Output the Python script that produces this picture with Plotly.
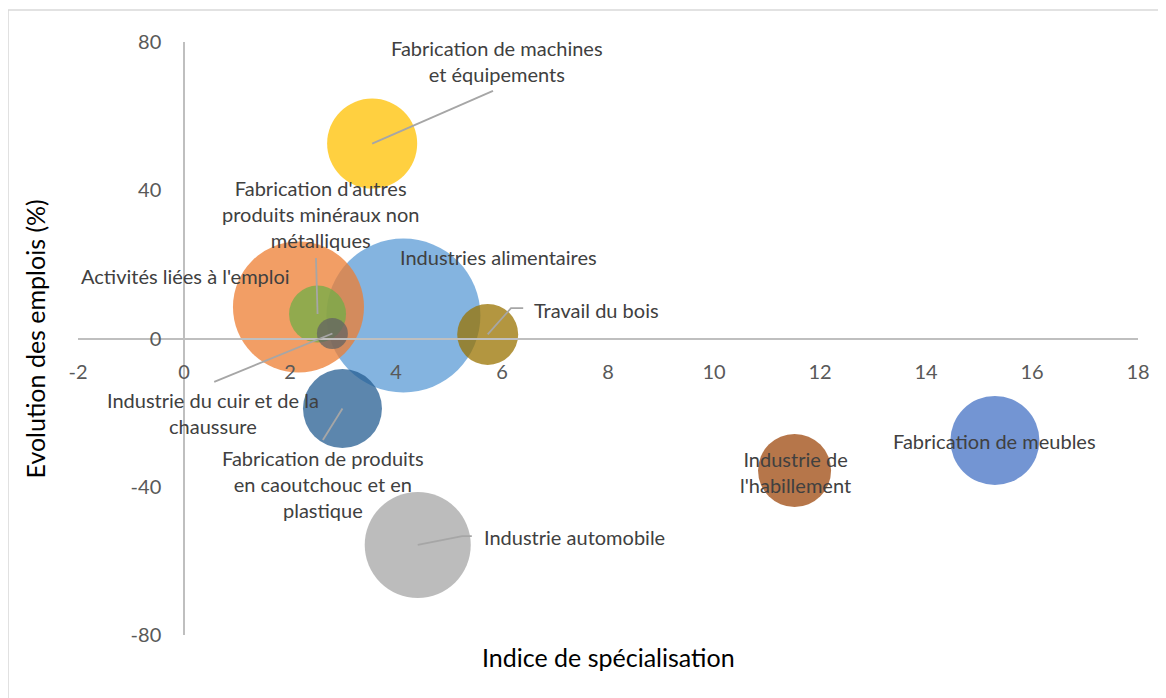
import plotly.graph_objects as go

# Données
secteurs = [
    "Industries alimentaires",
    "Activités liées à l'emploi",
    "Industrie automobile",
    "Fabrication de machines et équipements",
    "Fabrication de meubles",
    "Fabrication d'autres produits minéraux non métalliques",
    "Fabrication de produits en caoutchouc et en plastique",
    "Industrie de l'habillement",
    "Industrie du cuir et de la chaussure",
    "Travail du bois",
]
indice_specialisation = [4.14, 2.16, 4.41, 3.55, 15.30, 2.52, 2.99, 11.52, 2.80, 5.73]
evolution_emplois = [6.2, 8.5, -55.7, 52.6, -27.5, 6.6, -18.9, -35.6, 1.35, 1.1]
taille_bulles = [100, 72.4, 47.4, 34.2, 33.4, 13.7, 26.3, 22.5, 4.05, 15.7]

x_ticks = [-2, 0, 2, 4, 6, 8, 10, 12, 14, 16, 18]
y_ticks = [-80, -40, 0, 40, 80]

couleurs = ["#5B9BD5", "#ED7D31", "#A5A5A5", "#FFC000", "#4472C4",
            "#70AD47", "#255E91", "#9E480E", "#636363", "#997300"]

# Etiquettes : texte, position (x, y), ancrage, ligne de rappel
etiquettes = [
    ("Industries alimentaires", 5.94, 22.0, "center", None),
    ("Activités liées à l'emploi", 0.02, 16.9, "center", None),
    ("Industrie automobile", 5.62, -53.6, "left", [(5.25, -53.3), (5.43, -53.3)]),
    ("Fabrication de machines<br>et équipements", 5.91, 74.9, "center", [(5.83, 66.8)]),
    ("Fabrication de meubles", 15.30, -27.7, "center", None),
    ("Fabrication d'autres<br>produits minéraux non<br>métalliques", 2.57, 33.6, "center", [(2.49, 21.7)]),
    ("Fabrication de produits<br>en caoutchouc et en<br>plastique", 2.62, -39.3, "center", [(2.62, -27.4)]),
    ("Industrie de<br>l'habillement", 11.53, -36.0, "center", None),
    ("Industrie du cuir et de la<br>chaussure", 0.55, -20.1, "center", [(0.57, -11.7)]),
    ("Travail du bois", 6.57, 7.7, "left", [(6.17, 8.2), (6.40, 8.2)]),
]

FONT = "Lato"
GRIS_AXE = "#BFBFBF"

fig = go.Figure()
for i, nom in enumerate(secteurs):
    fig.add_trace(go.Scatter(
        x=[indice_specialisation[i]], y=[evolution_emplois[i]],
        mode="markers", name=nom,
        marker=dict(size=[taille_bulles[i]], sizemode="area",
                    sizeref=2 * max(taille_bulles) / 154 ** 2,
                    color=couleurs[i], opacity=0.75, line=dict(width=0)),
        hoverinfo="skip"))

annotations = []
shapes = []
for i, (texte, lx, ly, anc, pts) in enumerate(etiquettes):
    annotations.append(dict(
        x=lx, y=ly, xref="x", yref="y", text=texte, showarrow=False,
        xanchor=anc, yanchor="middle", align="center",
        font=dict(family=FONT, size=20, color="#404040")))
    if pts:
        chemin = [(indice_specialisation[i], evolution_emplois[i])] + pts
        path = "M " + " L ".join(f"{px},{py}" for px, py in chemin)
        shapes.append(dict(type="path", xref="x", yref="y", path=path,
                           line=dict(color="#A6A6A6", width=1.8)))

# titres des axes
annotations.append(dict(
    x=0.5, y=-0.037, xref="paper", yref="paper", yanchor="middle",
    text="Indice de spécialisation", showarrow=False,
    font=dict(family=FONT, size=25, color="#000000")))
annotations.append(dict(
    x=-0.0406, y=0.5, xref="paper", yref="paper", textangle=-90,
    xanchor="center", yanchor="middle",
    text="Evolution des emplois (%)", showarrow=False,
    font=dict(family=FONT, size=25, color="#000000")))

# cadre du graphique
shapes.append(dict(type="rect", xref="paper", yref="paper",
                   x0=-0.066, x1=1.2, y0=-0.3, y1=1.054,
                   line=dict(color="#D9D9D9", width=1.5), layer="below"))

fig.update_layout(
    width=1166, height=698,
    margin=dict(l=70, r=36, t=34, b=71),
    paper_bgcolor="white", plot_bgcolor="white",
    showlegend=False,
    annotations=annotations, shapes=shapes,
    xaxis=dict(range=[-2, 18], tickvals=x_ticks,
               ticktext=[str(v) for v in x_ticks],
               showgrid=False, zeroline=False,
               showline=True, linecolor=GRIS_AXE, linewidth=1.5,
               anchor="free", position=0.5, ticks="",
               ticklabelstandoff=16,
               tickfont=dict(family=FONT, size=20, color="#595959")),
    yaxis=dict(range=[-80, 80], tickvals=y_ticks,
               ticktext=[str(v) for v in y_ticks],
               showgrid=False, zeroline=False,
               showline=True, linecolor=GRIS_AXE, linewidth=1.5,
               anchor="free", position=0.1, ticks="",
               ticklabelstandoff=18,
               tickfont=dict(family=FONT, size=20, color="#595959")),
)

fig.write_html("out.html")
